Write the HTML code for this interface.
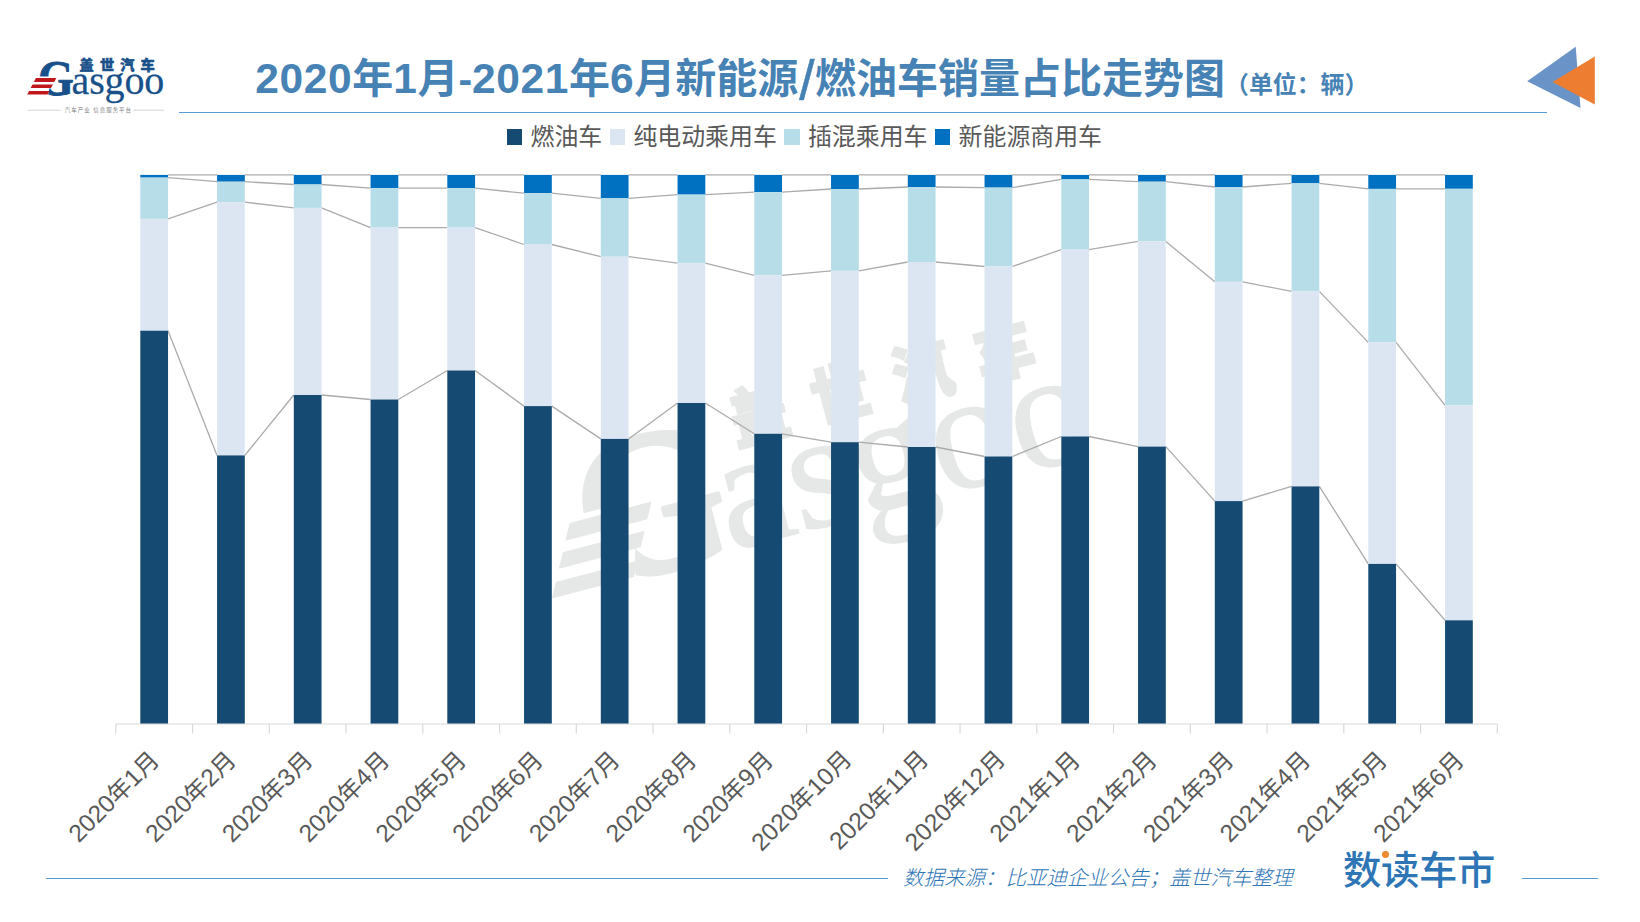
<!DOCTYPE html>
<html lang="zh-CN">
<head>
<meta charset="utf-8">
<title>2020年1月-2021年6月新能源/燃油车销量占比走势图</title>
<style>
html,body{margin:0;padding:0;background:#fff;}
body{width:1640px;height:922px;position:relative;overflow:hidden;
  font-family:"Liberation Sans","Noto Sans CJK SC",sans-serif;color:#595959;}
.abs{position:absolute;white-space:nowrap;line-height:1;}
svg{position:absolute;left:0;top:0;}
svg text{font-family:"Liberation Sans","Noto Sans CJK SC",sans-serif;}
svg text.sf{font-family:"Liberation Serif",serif;}
.title{left:255.2px;top:50.7px;font-size:41px;font-weight:700;color:#4682b4;line-height:56px;}
.title .unit{font-size:23.9px;}
.title b{font-weight:700;font-size:42.5px;letter-spacing:0.6px;}
.title .sl{font-size:55px;line-height:40px;position:relative;top:6.6px;margin:0 0.5px 0 1.0px;font-weight:400;-webkit-text-stroke:0.55px #4682b4;}
.hr{position:absolute;height:0;border-top:1.3px solid #5b9bd5;}
.legend{left:507px;top:124px;height:26px;font-size:23.9px;color:#595959;display:flex;align-items:center;}
.legend i{display:inline-block;width:15.4px;height:15.4px;margin-right:8.2px;position:relative;top:0px;}
.legend span{margin-right:7.6px;}
.src{left:903px;top:868.3px;font-size:20.5px;font-style:italic;font-weight:300;color:#2e75b6;}
.sdcs{left:1343px;top:851.5px;font-size:38.3px;font-weight:500;color:#2e75b6;letter-spacing:-0.3px;}
.dotmask{position:absolute;left:1380.5px;top:850px;width:14px;height:10.5px;background:#fff;}
.dot{position:absolute;left:1381.8px;top:851.4px;width:6.8px;height:6.8px;border-radius:50%;background:#f08a32;}
</style>
</head>
<body>
<svg width="1640" height="922" viewBox="0 0 1640 922">
<g transform="translate(567 523.7) rotate(-14.75) scale(4.15) translate(-35.3 -78)">
<text x="0" y="0" transform="translate(37.9 95.0) scale(0.92 1)" class="sf" font-weight="700" font-size="50" fill="#e5e8e6" stroke="#e5e8e6" stroke-width="0.9" stroke-linejoin="round">G</text>
<polygon points="36,76.6 52.5,76.6 47.5,96.5 26,96.5" fill="#ffffff"/>
<polygon points="35.95,78.00 56.34,78.00 54.28,81.90 33.88,81.90" fill="#e5e8e6"/>
<polygon points="32.55,84.40 52.95,84.40 51.05,88.00 30.64,88.00" fill="#e5e8e6"/>
<polygon points="29.11,90.90 49.51,90.90 47.60,94.50 27.20,94.50" fill="#e5e8e6"/>
<text x="71.6" y="94.4" class="sf" font-size="40" letter-spacing="-0.15" fill="#e5e8e6" stroke="#e5e8e6" stroke-width="0.25">asgoo</text>
<text x="79.6" y="70.2" transform="translate(0 70.2) scale(1 1.1) translate(0 -70.2)" font-weight="900" font-size="14.2" letter-spacing="6.15" fill="#e5e8e6" stroke="#e5e8e6" stroke-width="0.5">盖世汽车</text>
</g>
</svg>
<svg class="chart" width="1640" height="922" viewBox="0 0 1640 922">
<g fill="none" stroke="#ababab" stroke-width="1.3">
<line x1="168.05" y1="174.9" x2="217.05" y2="174.9"/>
<line x1="244.8" y1="174.9" x2="293.8" y2="174.9"/>
<line x1="321.55" y1="174.9" x2="370.55" y2="174.9"/>
<line x1="398.3" y1="174.9" x2="447.3" y2="174.9"/>
<line x1="475.05" y1="174.9" x2="524.05" y2="174.9"/>
<line x1="551.8" y1="174.9" x2="600.8" y2="174.9"/>
<line x1="628.55" y1="174.9" x2="677.55" y2="174.9"/>
<line x1="705.3" y1="174.9" x2="754.3" y2="174.9"/>
<line x1="782.05" y1="174.9" x2="831.05" y2="174.9"/>
<line x1="858.8" y1="174.9" x2="907.8" y2="174.9"/>
<line x1="935.55" y1="174.9" x2="984.55" y2="174.9"/>
<line x1="1012.3" y1="174.9" x2="1061.3" y2="174.9"/>
<line x1="1089.05" y1="174.9" x2="1138.05" y2="174.9"/>
<line x1="1165.8" y1="174.9" x2="1214.8" y2="174.9"/>
<line x1="1242.55" y1="174.9" x2="1291.55" y2="174.9"/>
<line x1="1319.3" y1="174.9" x2="1368.3" y2="174.9"/>
<line x1="1396.05" y1="174.9" x2="1445.05" y2="174.9"/>
<line x1="168.05" y1="177.6" x2="217.05" y2="181.7"/>
<line x1="244.8" y1="181.7" x2="293.8" y2="184.5"/>
<line x1="321.55" y1="184.5" x2="370.55" y2="188.1"/>
<line x1="398.3" y1="188.1" x2="447.3" y2="188.1"/>
<line x1="475.05" y1="188.1" x2="524.05" y2="193.2"/>
<line x1="551.8" y1="193.2" x2="600.8" y2="198.3"/>
<line x1="628.55" y1="198.3" x2="677.55" y2="194.6"/>
<line x1="705.3" y1="194.6" x2="754.3" y2="192.1"/>
<line x1="782.05" y1="192.1" x2="831.05" y2="189"/>
<line x1="858.8" y1="189" x2="907.8" y2="187"/>
<line x1="935.55" y1="187" x2="984.55" y2="187.6"/>
<line x1="1012.3" y1="187.6" x2="1061.3" y2="179.4"/>
<line x1="1089.05" y1="179.4" x2="1138.05" y2="181.7"/>
<line x1="1165.8" y1="181.7" x2="1214.8" y2="187"/>
<line x1="1242.55" y1="187" x2="1291.55" y2="183.3"/>
<line x1="1319.3" y1="183.3" x2="1368.3" y2="188.9"/>
<line x1="1396.05" y1="188.9" x2="1445.05" y2="188.8"/>
<line x1="168.05" y1="218.9" x2="217.05" y2="202.2"/>
<line x1="244.8" y1="202.2" x2="293.8" y2="207.9"/>
<line x1="321.55" y1="207.9" x2="370.55" y2="227.6"/>
<line x1="398.3" y1="227.6" x2="447.3" y2="227.6"/>
<line x1="475.05" y1="227.6" x2="524.05" y2="244.5"/>
<line x1="551.8" y1="244.5" x2="600.8" y2="256.7"/>
<line x1="628.55" y1="256.7" x2="677.55" y2="263.1"/>
<line x1="705.3" y1="263.1" x2="754.3" y2="275.3"/>
<line x1="782.05" y1="275.3" x2="831.05" y2="270.8"/>
<line x1="858.8" y1="270.8" x2="907.8" y2="262"/>
<line x1="935.55" y1="262" x2="984.55" y2="266.5"/>
<line x1="1012.3" y1="266.5" x2="1061.3" y2="249.6"/>
<line x1="1089.05" y1="249.6" x2="1138.05" y2="241.4"/>
<line x1="1165.8" y1="241.4" x2="1214.8" y2="281.8"/>
<line x1="1242.55" y1="281.8" x2="1291.55" y2="291.4"/>
<line x1="1319.3" y1="291.4" x2="1368.3" y2="342.4"/>
<line x1="1396.05" y1="342.4" x2="1445.05" y2="405.3"/>
<line x1="168.05" y1="330.7" x2="217.05" y2="455.4"/>
<line x1="244.8" y1="455.4" x2="293.8" y2="395"/>
<line x1="321.55" y1="395" x2="370.55" y2="399.5"/>
<line x1="398.3" y1="399.5" x2="447.3" y2="370.5"/>
<line x1="475.05" y1="370.5" x2="524.05" y2="406.1"/>
<line x1="551.8" y1="406.1" x2="600.8" y2="438.9"/>
<line x1="628.55" y1="438.9" x2="677.55" y2="403"/>
<line x1="705.3" y1="403" x2="754.3" y2="433.8"/>
<line x1="782.05" y1="433.8" x2="831.05" y2="442.2"/>
<line x1="858.8" y1="442.2" x2="907.8" y2="447"/>
<line x1="935.55" y1="447" x2="984.55" y2="456.5"/>
<line x1="1012.3" y1="456.5" x2="1061.3" y2="436.5"/>
<line x1="1089.05" y1="436.5" x2="1138.05" y2="446.6"/>
<line x1="1165.8" y1="446.6" x2="1214.8" y2="501.1"/>
<line x1="1242.55" y1="501.1" x2="1291.55" y2="486.4"/>
<line x1="1319.3" y1="486.4" x2="1368.3" y2="563.9"/>
<line x1="1396.05" y1="563.9" x2="1445.05" y2="620.3"/>
</g>
<g transform="translate(140.3 0)">
<rect y="174.9" width="27.75" height="2.7" fill="#0070c0"/>
<rect y="177.6" width="27.75" height="41.3" fill="#b7dde8"/>
<rect y="218.9" width="27.75" height="111.8" fill="#dce6f2"/>
<rect y="330.7" width="27.75" height="393.3" fill="#154b72"/>
</g>
<g transform="translate(217.05 0)">
<rect y="174.9" width="27.75" height="6.8" fill="#0070c0"/>
<rect y="181.7" width="27.75" height="20.5" fill="#b7dde8"/>
<rect y="202.2" width="27.75" height="253.2" fill="#dce6f2"/>
<rect y="455.4" width="27.75" height="268.6" fill="#154b72"/>
</g>
<g transform="translate(293.8 0)">
<rect y="174.9" width="27.75" height="9.6" fill="#0070c0"/>
<rect y="184.5" width="27.75" height="23.4" fill="#b7dde8"/>
<rect y="207.9" width="27.75" height="187.1" fill="#dce6f2"/>
<rect y="395" width="27.75" height="329" fill="#154b72"/>
</g>
<g transform="translate(370.55 0)">
<rect y="174.9" width="27.75" height="13.2" fill="#0070c0"/>
<rect y="188.1" width="27.75" height="39.5" fill="#b7dde8"/>
<rect y="227.6" width="27.75" height="171.9" fill="#dce6f2"/>
<rect y="399.5" width="27.75" height="324.5" fill="#154b72"/>
</g>
<g transform="translate(447.3 0)">
<rect y="174.9" width="27.75" height="13.2" fill="#0070c0"/>
<rect y="188.1" width="27.75" height="39.5" fill="#b7dde8"/>
<rect y="227.6" width="27.75" height="142.9" fill="#dce6f2"/>
<rect y="370.5" width="27.75" height="353.5" fill="#154b72"/>
</g>
<g transform="translate(524.05 0)">
<rect y="174.9" width="27.75" height="18.3" fill="#0070c0"/>
<rect y="193.2" width="27.75" height="51.3" fill="#b7dde8"/>
<rect y="244.5" width="27.75" height="161.6" fill="#dce6f2"/>
<rect y="406.1" width="27.75" height="317.9" fill="#154b72"/>
</g>
<g transform="translate(600.8 0)">
<rect y="174.9" width="27.75" height="23.4" fill="#0070c0"/>
<rect y="198.3" width="27.75" height="58.4" fill="#b7dde8"/>
<rect y="256.7" width="27.75" height="182.2" fill="#dce6f2"/>
<rect y="438.9" width="27.75" height="285.1" fill="#154b72"/>
</g>
<g transform="translate(677.55 0)">
<rect y="174.9" width="27.75" height="19.7" fill="#0070c0"/>
<rect y="194.6" width="27.75" height="68.5" fill="#b7dde8"/>
<rect y="263.1" width="27.75" height="139.9" fill="#dce6f2"/>
<rect y="403" width="27.75" height="321" fill="#154b72"/>
</g>
<g transform="translate(754.3 0)">
<rect y="174.9" width="27.75" height="17.2" fill="#0070c0"/>
<rect y="192.1" width="27.75" height="83.2" fill="#b7dde8"/>
<rect y="275.3" width="27.75" height="158.5" fill="#dce6f2"/>
<rect y="433.8" width="27.75" height="290.2" fill="#154b72"/>
</g>
<g transform="translate(831.05 0)">
<rect y="174.9" width="27.75" height="14.1" fill="#0070c0"/>
<rect y="189" width="27.75" height="81.8" fill="#b7dde8"/>
<rect y="270.8" width="27.75" height="171.4" fill="#dce6f2"/>
<rect y="442.2" width="27.75" height="281.8" fill="#154b72"/>
</g>
<g transform="translate(907.8 0)">
<rect y="174.9" width="27.75" height="12.1" fill="#0070c0"/>
<rect y="187" width="27.75" height="75" fill="#b7dde8"/>
<rect y="262" width="27.75" height="185" fill="#dce6f2"/>
<rect y="447" width="27.75" height="277" fill="#154b72"/>
</g>
<g transform="translate(984.55 0)">
<rect y="174.9" width="27.75" height="12.7" fill="#0070c0"/>
<rect y="187.6" width="27.75" height="78.9" fill="#b7dde8"/>
<rect y="266.5" width="27.75" height="190" fill="#dce6f2"/>
<rect y="456.5" width="27.75" height="267.5" fill="#154b72"/>
</g>
<g transform="translate(1061.3 0)">
<rect y="174.9" width="27.75" height="4.5" fill="#0070c0"/>
<rect y="179.4" width="27.75" height="70.2" fill="#b7dde8"/>
<rect y="249.6" width="27.75" height="186.9" fill="#dce6f2"/>
<rect y="436.5" width="27.75" height="287.5" fill="#154b72"/>
</g>
<g transform="translate(1138.05 0)">
<rect y="174.9" width="27.75" height="6.8" fill="#0070c0"/>
<rect y="181.7" width="27.75" height="59.7" fill="#b7dde8"/>
<rect y="241.4" width="27.75" height="205.2" fill="#dce6f2"/>
<rect y="446.6" width="27.75" height="277.4" fill="#154b72"/>
</g>
<g transform="translate(1214.8 0)">
<rect y="174.9" width="27.75" height="12.1" fill="#0070c0"/>
<rect y="187" width="27.75" height="94.8" fill="#b7dde8"/>
<rect y="281.8" width="27.75" height="219.3" fill="#dce6f2"/>
<rect y="501.1" width="27.75" height="222.9" fill="#154b72"/>
</g>
<g transform="translate(1291.55 0)">
<rect y="174.9" width="27.75" height="8.4" fill="#0070c0"/>
<rect y="183.3" width="27.75" height="108.1" fill="#b7dde8"/>
<rect y="291.4" width="27.75" height="195" fill="#dce6f2"/>
<rect y="486.4" width="27.75" height="237.6" fill="#154b72"/>
</g>
<g transform="translate(1368.3 0)">
<rect y="174.9" width="27.75" height="14" fill="#0070c0"/>
<rect y="188.9" width="27.75" height="153.5" fill="#b7dde8"/>
<rect y="342.4" width="27.75" height="221.5" fill="#dce6f2"/>
<rect y="563.9" width="27.75" height="160.1" fill="#154b72"/>
</g>
<g transform="translate(1445.05 0)">
<rect y="174.9" width="27.75" height="13.9" fill="#0070c0"/>
<rect y="188.8" width="27.75" height="216.5" fill="#b7dde8"/>
<rect y="405.3" width="27.75" height="215" fill="#dce6f2"/>
<rect y="620.3" width="27.75" height="103.7" fill="#154b72"/>
</g>
<g stroke="#d9d9d9" stroke-width="1.2" fill="none">
<line x1="115.8" y1="724" x2="1497.3" y2="724"/>
<line x1="115.8" y1="724" x2="115.8" y2="733.6"/>
<line x1="192.55" y1="724" x2="192.55" y2="733.6"/>
<line x1="269.3" y1="724" x2="269.3" y2="733.6"/>
<line x1="346.05" y1="724" x2="346.05" y2="733.6"/>
<line x1="422.8" y1="724" x2="422.8" y2="733.6"/>
<line x1="499.55" y1="724" x2="499.55" y2="733.6"/>
<line x1="576.3" y1="724" x2="576.3" y2="733.6"/>
<line x1="653.05" y1="724" x2="653.05" y2="733.6"/>
<line x1="729.8" y1="724" x2="729.8" y2="733.6"/>
<line x1="806.55" y1="724" x2="806.55" y2="733.6"/>
<line x1="883.3" y1="724" x2="883.3" y2="733.6"/>
<line x1="960.05" y1="724" x2="960.05" y2="733.6"/>
<line x1="1036.8" y1="724" x2="1036.8" y2="733.6"/>
<line x1="1113.55" y1="724" x2="1113.55" y2="733.6"/>
<line x1="1190.3" y1="724" x2="1190.3" y2="733.6"/>
<line x1="1267.05" y1="724" x2="1267.05" y2="733.6"/>
<line x1="1343.8" y1="724" x2="1343.8" y2="733.6"/>
<line x1="1420.55" y1="724" x2="1420.55" y2="733.6"/>
<line x1="1497.3" y1="724" x2="1497.3" y2="733.6"/>
</g>
<g class="xl" font-size="23.9" fill="#595959" text-anchor="end">
<text x="160.68" y="761.5" transform="rotate(-45 160.68 761.5)"><tspan font-size="24.5">2020</tspan>年<tspan font-size="24.5">1</tspan>月</text>
<text x="237.43" y="761.5" transform="rotate(-45 237.43 761.5)"><tspan font-size="24.5">2020</tspan>年<tspan font-size="24.5">2</tspan>月</text>
<text x="314.18" y="761.5" transform="rotate(-45 314.18 761.5)"><tspan font-size="24.5">2020</tspan>年<tspan font-size="24.5">3</tspan>月</text>
<text x="390.93" y="761.5" transform="rotate(-45 390.93 761.5)"><tspan font-size="24.5">2020</tspan>年<tspan font-size="24.5">4</tspan>月</text>
<text x="467.68" y="761.5" transform="rotate(-45 467.68 761.5)"><tspan font-size="24.5">2020</tspan>年<tspan font-size="24.5">5</tspan>月</text>
<text x="544.42" y="761.5" transform="rotate(-45 544.42 761.5)"><tspan font-size="24.5">2020</tspan>年<tspan font-size="24.5">6</tspan>月</text>
<text x="621.17" y="761.5" transform="rotate(-45 621.17 761.5)"><tspan font-size="24.5">2020</tspan>年<tspan font-size="24.5">7</tspan>月</text>
<text x="697.92" y="761.5" transform="rotate(-45 697.92 761.5)"><tspan font-size="24.5">2020</tspan>年<tspan font-size="24.5">8</tspan>月</text>
<text x="774.67" y="761.5" transform="rotate(-45 774.67 761.5)"><tspan font-size="24.5">2020</tspan>年<tspan font-size="24.5">9</tspan>月</text>
<text x="853.12" y="760.6" transform="rotate(-45 853.12 760.6)"><tspan font-size="24.5">2020</tspan>年<tspan font-size="24.5">10</tspan>月</text>
<text x="929.88" y="760.6" transform="rotate(-45 929.88 760.6)"><tspan font-size="24.5">2020</tspan>年<tspan font-size="24.5">11</tspan>月</text>
<text x="1006.62" y="760.6" transform="rotate(-45 1006.62 760.6)"><tspan font-size="24.5">2020</tspan>年<tspan font-size="24.5">12</tspan>月</text>
<text x="1081.67" y="761.5" transform="rotate(-45 1081.67 761.5)"><tspan font-size="24.5">2021</tspan>年<tspan font-size="24.5">1</tspan>月</text>
<text x="1158.42" y="761.5" transform="rotate(-45 1158.42 761.5)"><tspan font-size="24.5">2021</tspan>年<tspan font-size="24.5">2</tspan>月</text>
<text x="1235.17" y="761.5" transform="rotate(-45 1235.17 761.5)"><tspan font-size="24.5">2021</tspan>年<tspan font-size="24.5">3</tspan>月</text>
<text x="1311.92" y="761.5" transform="rotate(-45 1311.92 761.5)"><tspan font-size="24.5">2021</tspan>年<tspan font-size="24.5">4</tspan>月</text>
<text x="1388.67" y="761.5" transform="rotate(-45 1388.67 761.5)"><tspan font-size="24.5">2021</tspan>年<tspan font-size="24.5">5</tspan>月</text>
<text x="1465.42" y="761.5" transform="rotate(-45 1465.42 761.5)"><tspan font-size="24.5">2021</tspan>年<tspan font-size="24.5">6</tspan>月</text>
</g>
</svg>
<svg width="1640" height="922" viewBox="0 0 1640 922">
<g>
<text x="0" y="0" transform="translate(37.9 95.0) scale(0.92 1)" class="sf" font-weight="700" font-size="50" fill="#18508a" stroke="#18508a" stroke-width="0.9" stroke-linejoin="round">G</text>
<polygon points="36,76.6 52.5,76.6 47.5,96.5 26,96.5" fill="#ffffff"/>
<polygon points="35.95,78.00 56.34,78.00 54.28,81.90 33.88,81.90" fill="#c0171d"/>
<polygon points="32.55,84.40 52.95,84.40 51.05,88.00 30.64,88.00" fill="#c0171d"/>
<polygon points="29.11,90.90 49.51,90.90 47.60,94.50 27.20,94.50" fill="#c0171d"/>
<text x="71.6" y="94.4" class="sf" font-size="40" letter-spacing="-0.15" fill="#18508a" stroke="#18508a" stroke-width="0.25">asgoo</text>
<text x="79.6" y="70.2" font-weight="900" font-size="14.2" letter-spacing="6.15" fill="#18508a" stroke="#18508a" stroke-width="0.5">盖世汽车</text>
<g stroke="#c9c9c9" stroke-width="0.8"><line x1="27.5" y1="110.2" x2="61" y2="110.2"/><line x1="133.4" y1="110.2" x2="164" y2="110.2"/></g>
<text transform="translate(64.8 112.1) scale(0.5)" font-size="11" letter-spacing="1.95" fill="#808080">汽车产业 信息服务平台</text>
</g>
</svg>
<div class="abs title"><b>2020</b>年<b>1</b>月-<b>2021</b>年<b>6</b>月新能源<span class="sl">/</span>燃油车销量占比走势图<span class="unit">（单位：辆）</span></div>
<div class="hr" style="left:179px;top:111.8px;width:1368px;"></div>
<svg width="1640" height="922" viewBox="0 0 1640 922">
<polygon points="1527.2,81.3 1575.7,46.8 1580.5,108.1" fill="#6a93c7"/>
<polygon points="1552.5,82 1594.8,56.5 1594.8,104.4" fill="#ed7d31"/>
</svg>
<div class="abs legend"><i style="background:#154b72"></i><span>燃油车</span><i style="background:#dce6f2"></i><span>纯电动乘用车</span><i style="background:#b7dde8"></i><span>插混乘用车</span><i style="background:#0070c0"></i><span>新能源商用车</span></div>
<div class="hr" style="left:46.3px;top:877.7px;width:842px;"></div>
<div class="hr" style="left:1522.2px;top:877.7px;width:75.7px;"></div>
<div class="abs src">数据来源：比亚迪企业公告；盖世汽车整理</div>
<div class="abs sdcs">数读车市</div>
<div class="dotmask"></div><div class="dot"></div>
</body>
</html>
